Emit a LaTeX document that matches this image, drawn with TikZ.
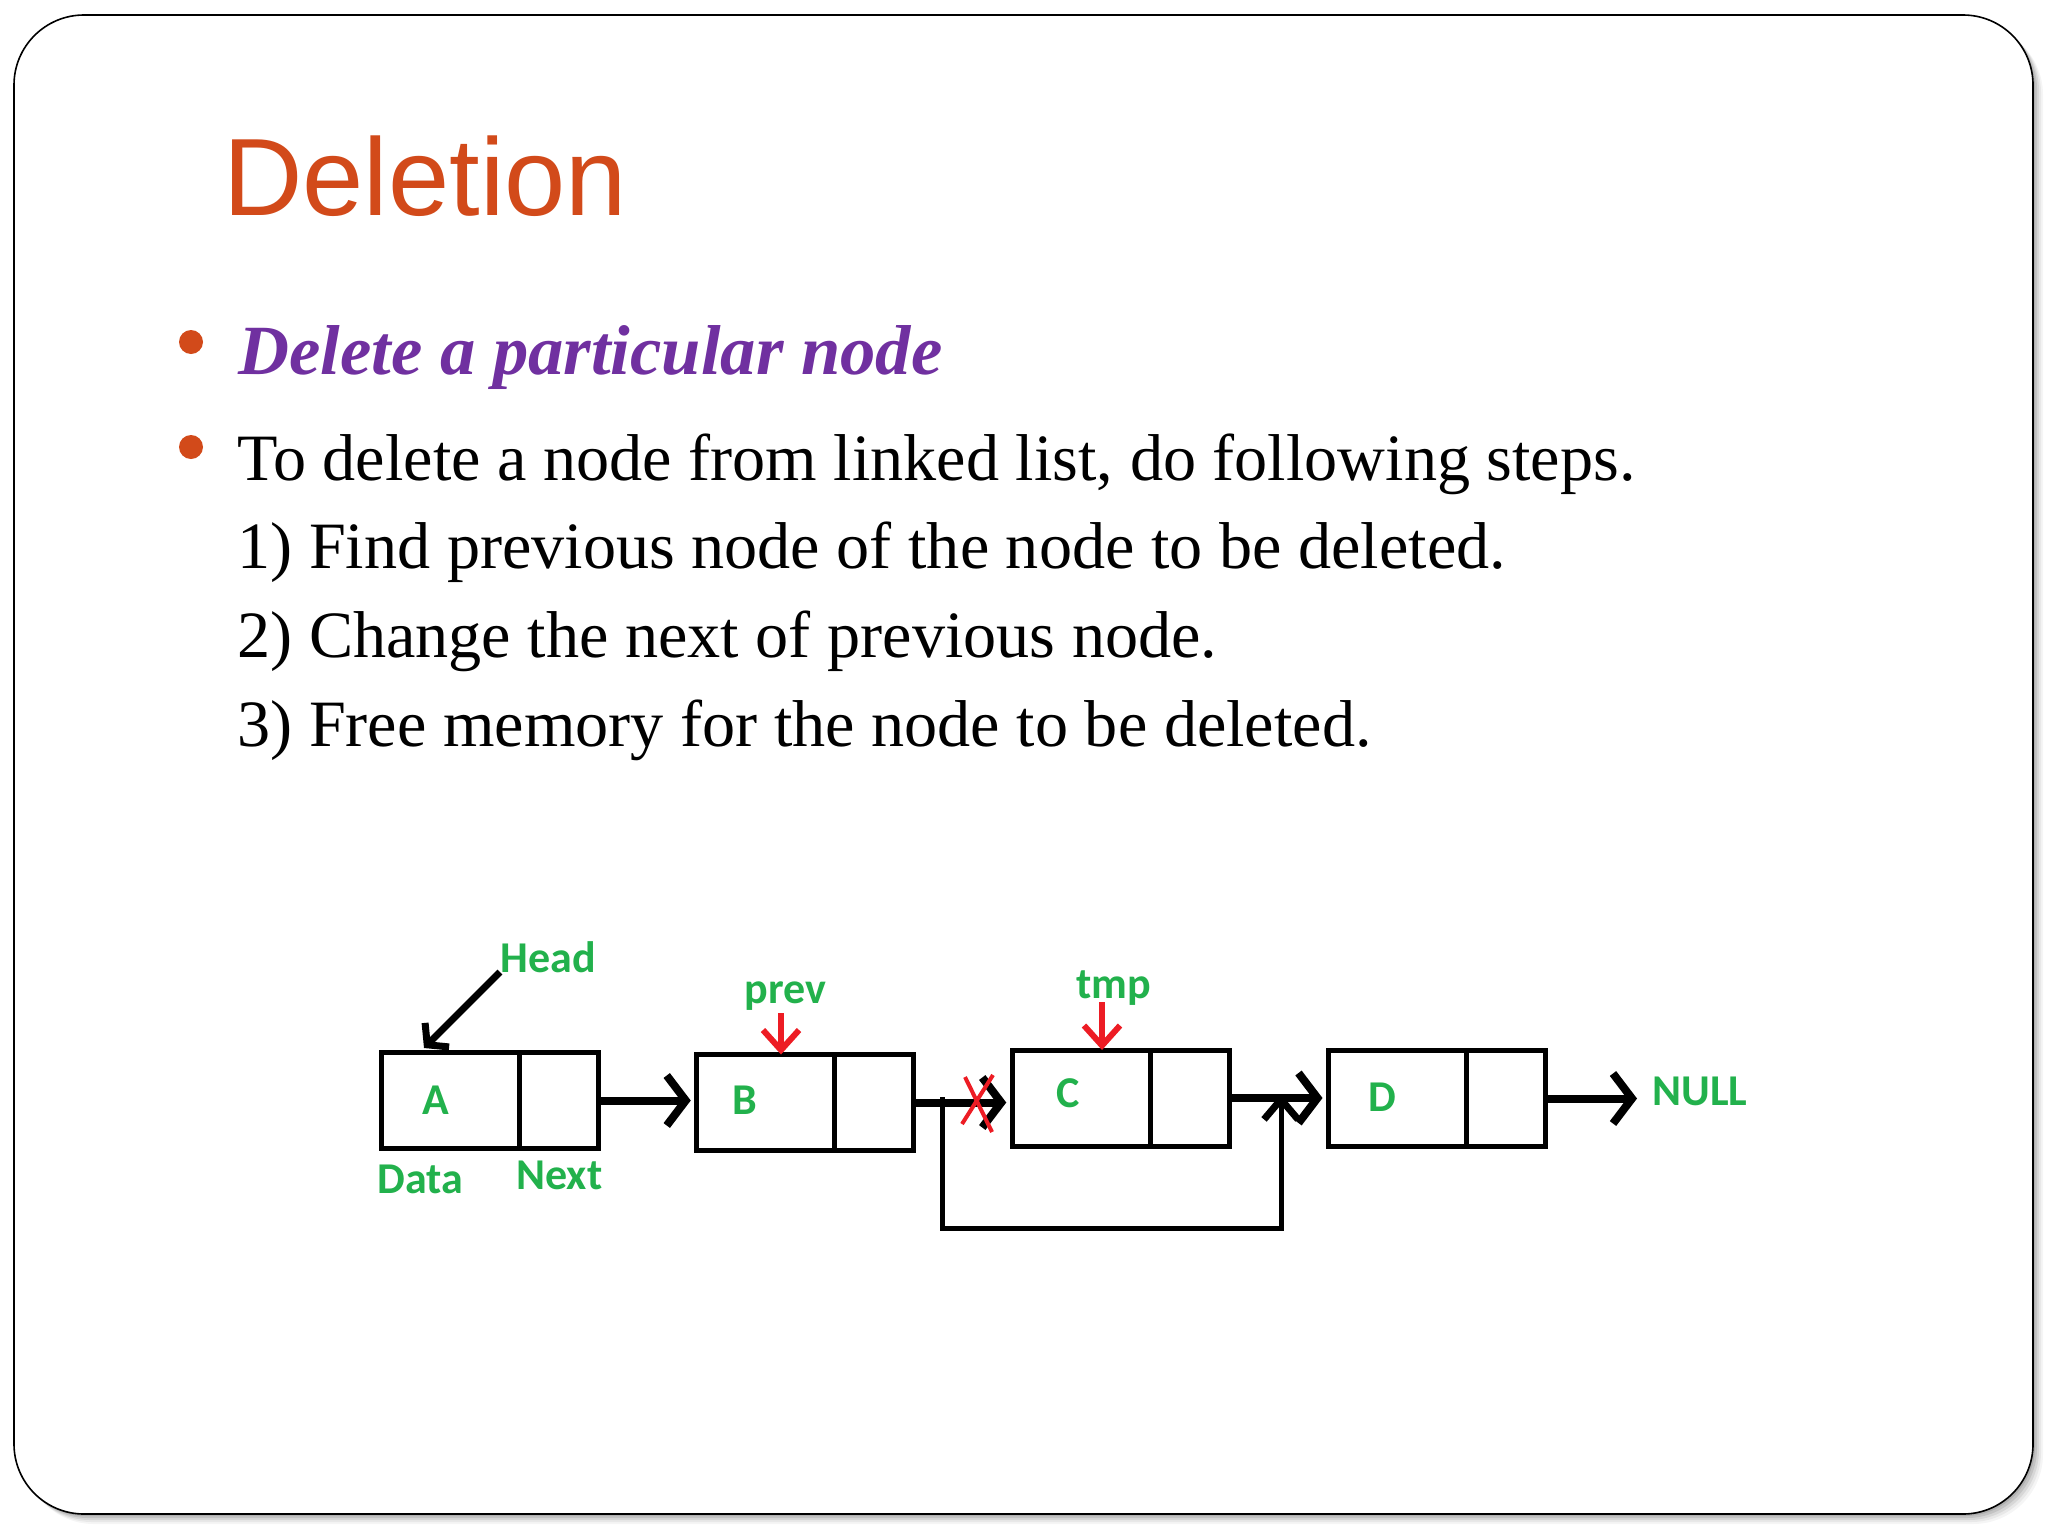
\documentclass[tikz,border=0pt]{standalone}
\usepackage{fontspec}
\setmainfont{Liberation Serif}
\newfontfamily\titlefont{Liberation Sans}
\newfontfamily\paintfont{Carlito}
\usetikzlibrary{arrows.meta}
\definecolor{titleorange}{HTML}{D24A1A}
\definecolor{subpurple}{HTML}{7030A0}
\definecolor{paintgreen}{HTML}{22B14C}
\definecolor{paintred}{HTML}{ED1C24}
\begin{document}
\begin{tikzpicture}[x=0.5pt,y=-0.5pt,
  cell/.style={draw=black, line width=2.5pt, rectangle, inner sep=0pt, outer sep=0pt, minimum height=48pt},
  datacell/.style={cell, minimum width=69pt},
  nextcell/.style={cell, minimum width=39.5pt, anchor=west},
  greenfont/.style={text=paintgreen, font=\paintfont\bfseries\fontsize{22pt}{26pt}\selectfont, inner sep=0pt},
  letter/.style={greenfont},
  lbl/.style={greenfont, anchor=base west},
  bodytext/.style={anchor=base west, inner sep=0pt, text=black, font=\fontsize{33.1pt}{40pt}\selectfont},
  bulletdot/.style={circle, fill=titleorange, inner sep=0pt, minimum size=12pt},
  link/.style={line width=4pt, shorten >=3pt, -{Straight Barb[length=9.5pt,width=25pt,line width=4pt]}},
  headptr/.style={line width=3.5pt, -{Straight Barb[length=7pt,width=17pt,line width=3.5pt]}},
  redptr/.style={draw=paintred, line width=3pt, -{Straight Barb[length=10pt,width=18pt,line width=3pt]}},
  bypass/.style={line width=2.5pt, -{Straight Barb[length=10pt,width=17pt,line width=3.5pt]}},
  crossmark/.style={draw=paintred, line width=2pt}
]
\useasboundingbox (0,0) rectangle (2048,1536);
\fill[white] (0,0) rectangle (2048,1536);
% shadow
\foreach \o/\op in {10/0.04,8/0.05,6/0.07,4/0.09,2/0.1}
  \fill[black,opacity=\op,rounded corners=35pt] (14+\o,15+\o) rectangle (2033+\o,1514+\o);
% slide frame
\filldraw[fill=white, draw=black, line width=0.8pt, rounded corners=35pt] (14,15) rectangle (2033,1514);

% title
\node[anchor=base west, inner sep=0pt, text=titleorange, font=\titlefont\fontsize{55pt}{66pt}\selectfont] (title) at (223,215) {Deletion};

% bullets
\node[bulletdot] (b1) at (191,342) {};
\node[bulletdot] (b2) at (191,447) {};
\node[anchor=base west, inner sep=0pt, text=subpurple, font=\bfseries\itshape\fontsize{35.3pt}{42pt}\selectfont] (sub) at (238,374) {Delete a particular node};
\node[bodytext] (l1) at (237,480) {To delete a node from linked list, do following steps.};
\node[bodytext] (l2) at (237,568.5) {1) Find previous node of the node to be deleted.};
\node[bodytext] (l3) at (237,657) {2) Change the next of previous node.};
\node[bodytext] (l4) at (237,746) {3) Free memory for the node to be deleted.};

% list cells
\node[datacell] (A) at (450.25,1100.5) {};
\node[nextcell] (An) at (A.east) {};
\node[datacell] (B) at (765.75,1102.5) {};
\node[nextcell] (Bn) at (B.east) {};
\node[datacell] (C) at (1081.25,1098) {};
\node[nextcell] (Cn) at (C.east) {};
\node[datacell] (D) at (1397.5,1098.5) {};
\node[nextcell] (Dn) at (D.east) {};

% letters
\node[letter] (At) at (436,1100) {A};
\node[letter] (Bt) at (745,1100) {B};
\node[letter] (Ct) at (1068,1093) {C};
\node[letter] (Dt) at (1382,1097) {D};

% labels
\node[lbl] (Head) at (500,972) {Head};
\node[lbl] (Data) at (377,1193) {Data};
\node[lbl] (Next) at (516,1189) {Next};
\node[lbl] (prev) at (744,1003) {prev};
\node[lbl] (tmp) at (1076,998) {tmp};
\node[lbl] (NULL) at (1652,1105) {NULL};

% connectors
\draw[link] (An.east) -- (An.east -| B.west);
\draw[link] (Bn.east) -- (Bn.east -| C.west);
\draw[link] (Cn.east) -- (Cn.east -| D.west);
\coordinate (nullend) at (1637,1096);
\draw[link, shorten >=0pt] (Dn.east) -- (Dn.east -| nullend);

\coordinate (headtip) at (424,1048);
\draw[headptr] (Head.base west) -- (headtip);

\coordinate (prevtail) at (781,1013);
\draw[redptr] (prevtail) -- (prevtail |- B.north);
\coordinate (tmptail) at (1102,1002);
\draw[redptr] (tmptail) -- (tmptail |- C.north);

% bypass link
\coordinate (bypA) at (942,1097);
\coordinate (bypL) at (942,1228);
\coordinate (bypB) at (1281,1094);
\draw[bypass] (bypA) -- (bypL) -| (bypB);

% red cross
\draw[crossmark] (965,1077) -- (992,1132);
\draw[crossmark] (993,1075) -- (962,1124);
\end{tikzpicture}
\end{document}
